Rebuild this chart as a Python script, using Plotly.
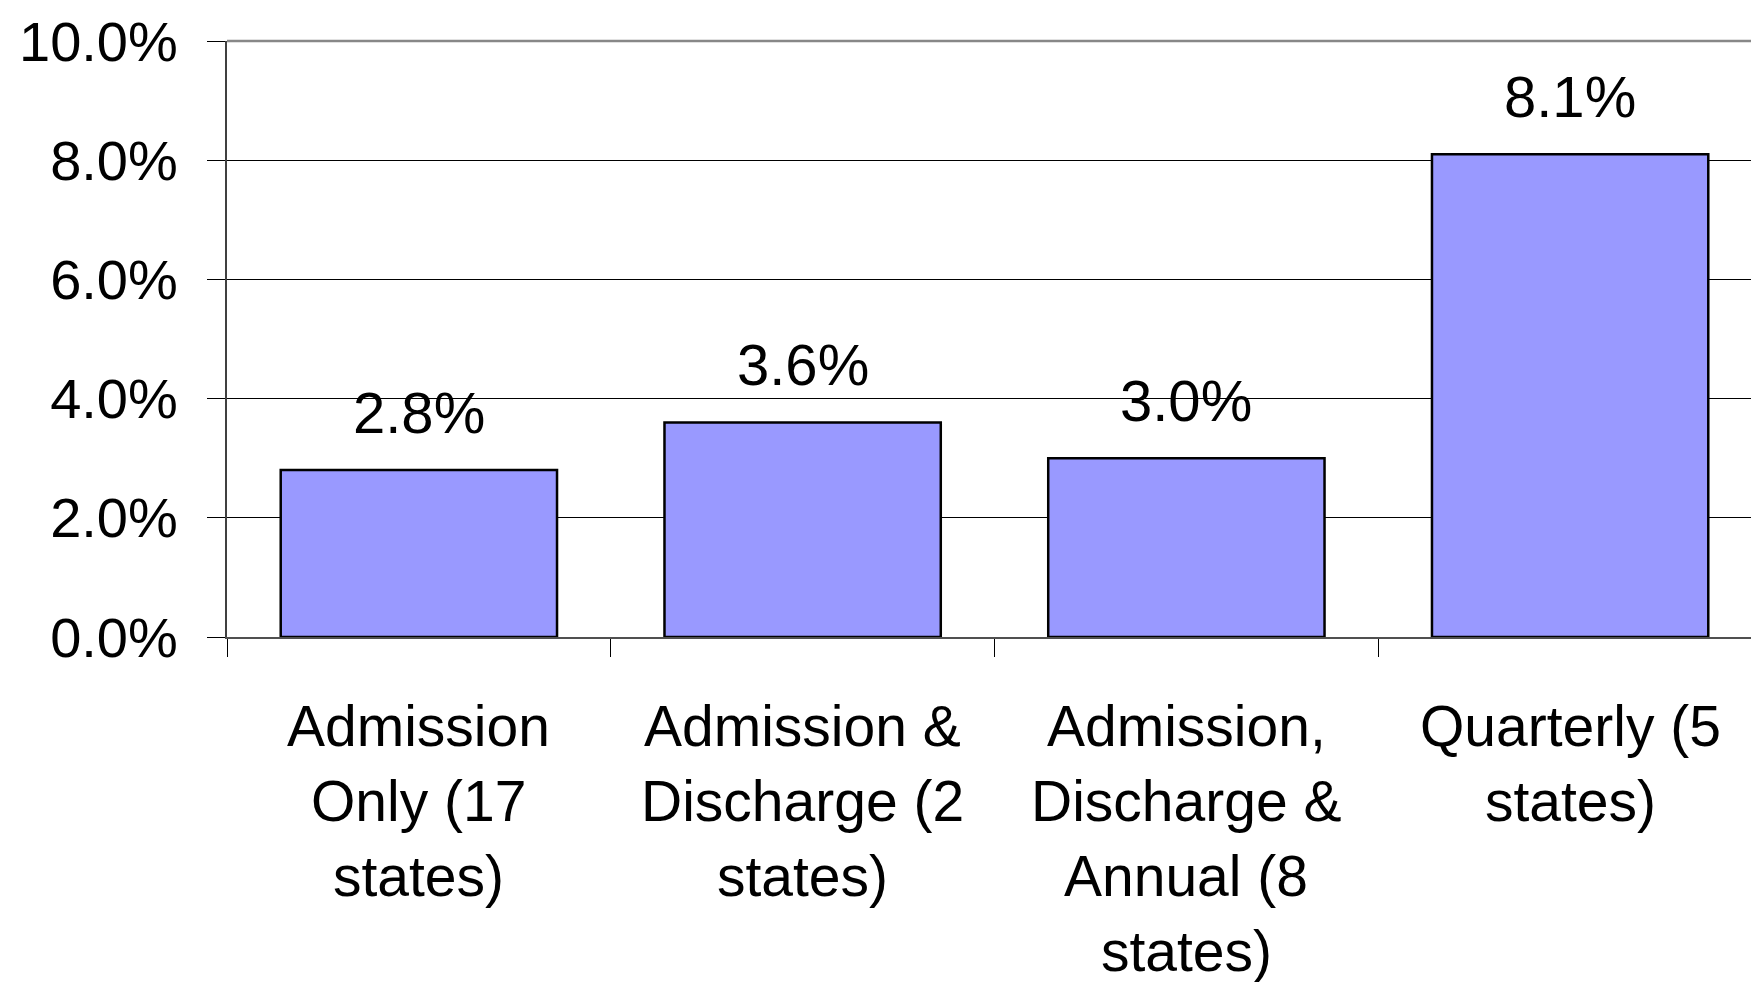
import plotly.graph_objects as go

categories = [
    "Admission<br>Only (17<br>states)",
    "Admission &<br>Discharge (2<br>states)",
    "Admission,<br>Discharge &<br>Annual (8<br>states)",
    "Quarterly (5<br>states)",
]
values = [0.028, 0.036, 0.030, 0.081]
value_labels = ["2.8%", "3.6%", "3.0%", "8.1%"]
y_ticks = [0.0, 0.02, 0.04, 0.06, 0.08, 0.10]
y_tick_labels = ["0.0%", "2.0%", "4.0%", "6.0%", "8.0%", "10.0%"]

FONT = "Liberation Sans, Arial, sans-serif"
LINE_STEP = 75        # px between lines of the category labels
FIRST_LINE = -55      # px offset of first label line below the axis

fig = go.Figure()
fig.add_trace(go.Bar(
    x=categories,
    y=values,
    marker=dict(color="#9999FF", line=dict(color="#000000", width=2.5)),
    width=0.72,
    showlegend=False,
    hoverinfo="skip",
))

# value labels above bars
for c, v, t in zip(categories, values, value_labels):
    fig.add_annotation(
        x=c, y=v, text=t, showarrow=False,
        xref="x", yref="y", yanchor="bottom", yshift=23,
        font=dict(family=FONT, size=58, color="#000000"),
    )

# category labels (one annotation per line to reproduce the wider line spacing)
for c in categories:
    for i, line in enumerate(c.split("<br>")):
        fig.add_annotation(
            x=c, y=0, text=line, showarrow=False,
            xref="x", yref="y", yanchor="top", xanchor="center",
            yshift=FIRST_LINE - i * LINE_STEP,
            font=dict(family=FONT, size=57, color="#000000"),
        )

fig.update_layout(
    width=1759, height=982,
    margin=dict(l=219, r=5, t=33, b=353, autoexpand=False),
    paper_bgcolor="#FFFFFF",
    plot_bgcolor="#FFFFFF",
    font=dict(family=FONT, size=57, color="#000000"),
    bargap=0.28,
    shapes=[
        dict(type="line", xref="x domain", yref="y domain", x0=0, x1=1, y0=1, y1=1,
             line=dict(color="#888888", width=2.5), layer="above"),
        dict(type="line", xref="x domain", yref="y domain", x0=1, x1=1, y0=0, y1=1,
             line=dict(color="#888888", width=2.5), layer="above"),
    ],
)

fig.update_xaxes(
    type="category",
    showgrid=False,
    showline=True, linecolor="#505050", linewidth=2,
    ticks="outside", tickson="boundaries", ticklen=18, tickwidth=1, tickcolor="#000000",
    showticklabels=False,
    zeroline=False,
)

fig.update_yaxes(
    range=[0, 0.10],
    tickvals=y_ticks, ticktext=y_tick_labels,
    showgrid=True, gridcolor="#000000", gridwidth=1,
    showline=True, linecolor="#404040", linewidth=2,
    ticks="outside", ticklen=18, tickwidth=1, tickcolor="#000000",
    tickfont=dict(family=FONT, size=56, color="#000000"),
    ticklabelstandoff=18,
    zeroline=False,
)

fig.write_html("out.html")
